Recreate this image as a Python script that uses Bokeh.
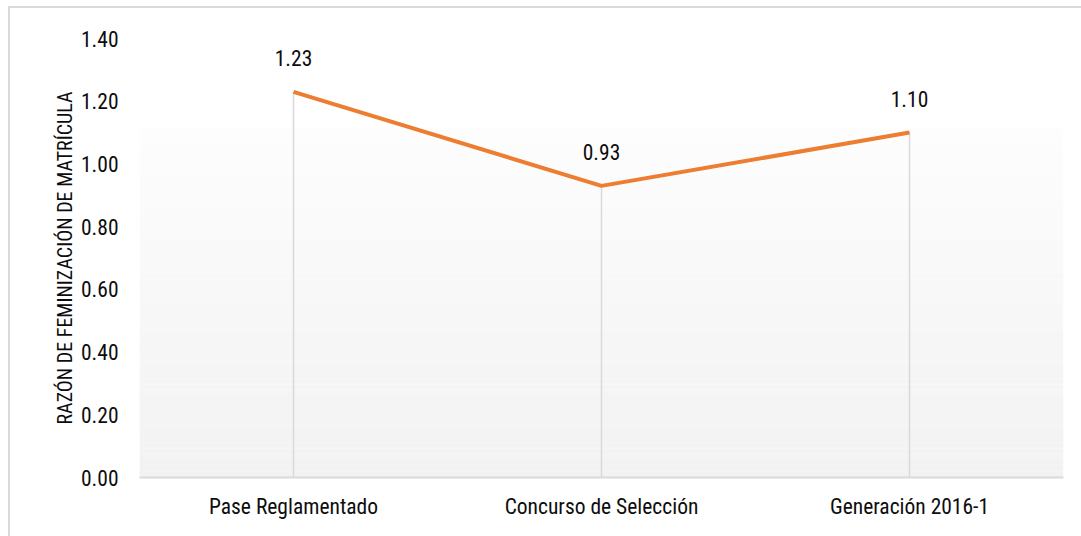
import numpy as np
from bokeh.plotting import figure
from bokeh.models import Range1d, FixedTicker, ColumnDataSource, PrintfTickFormatter
from bokeh.core.properties import value
from bokeh.embed import file_html
from bokeh.resources import INLINE

categories = ["Pase Reglamentado", "Concurso de Selección", "Generación 2016-1"]
ratios = [1.23, 0.93, 1.10]
y_ticks = [0.0, 0.2, 0.4, 0.6, 0.8, 1.0, 1.2, 1.4]
y_title = "RAZÓN DE FEMINIZACIÓN DE MATRÍCULA"

FONT = "Roboto Condensed"
FS = "21.5px"
TXT = "#0d0d0d"

xs = np.arange(len(categories)) + 0.5

p = figure(width=1081, height=536, output_backend="svg", toolbar_location=None,
           x_range=Range1d(0, len(categories)), y_range=Range1d(0, 1.4),
           min_border_left=139, min_border_right=18, min_border_top=38, min_border_bottom=59)
p.outline_line_color = None
p.background_fill_color = "white"
p.border_fill_color = None
p.styles = {
    "background": "linear-gradient(#d9d9d9,#d9d9d9) 8px 6px / 2px 100% no-repeat, "
                  "linear-gradient(#d9d9d9,#d9d9d9) 8px 6px / 100% 2px no-repeat, white"
}
p.xgrid.visible = False
p.ygrid.visible = False

# gradient plot background (horizontal strips)
n = 60
grad_top = 1.113
edges = np.linspace(0, grad_top, n + 1)
cols = []
for i in range(n):
    t = (i + 0.5) / n
    v = int(round(242 + (253 - 242) * t))
    cols.append("#%02x%02x%02x" % (v, v, v))
p.quad(left=0, right=len(categories), bottom=edges[:-1], top=edges[1:],
       fill_color=cols, line_color=None, level="underlay")

# drop lines
p.segment(x0=xs, y0=[0] * len(xs), x1=xs, y1=ratios, line_color="#d9d9d9", line_width=1.5)

# main line
p.line(xs, ratios, line_color="#ed7d31", line_width=4)

# data labels
src = ColumnDataSource(dict(x=xs, y=ratios, t=[f"{v:.2f}" for v in ratios]))
p.text(x="x", y="y", text="t", source=src, text_align="center", text_baseline="middle",
       y_offset=-34, text_font=value(FONT), text_font_size=FS, text_color=TXT)

# x axis
p.xaxis.ticker = FixedTicker(ticks=list(xs))
p.xaxis.major_label_overrides = {float(x): c for x, c in zip(xs, categories)}
p.xaxis.axis_line_color = "#d9d9d9"
p.xaxis.axis_line_width = 2
p.xaxis.major_tick_line_color = None
p.xaxis.minor_tick_line_color = None
p.xaxis.major_label_standoff = 10
p.xaxis.major_label_text_font = FONT
p.xaxis.major_label_text_font_size = FS
p.xaxis.major_label_text_color = TXT

# y axis
p.yaxis.ticker = FixedTicker(ticks=y_ticks)
p.yaxis.formatter = PrintfTickFormatter(format="%.2f")
p.yaxis.axis_line_color = None
p.yaxis.major_tick_line_color = None
p.yaxis.minor_tick_line_color = None
p.yaxis.major_label_standoff = 15
p.yaxis.major_label_text_font = FONT
p.yaxis.major_label_text_font_size = FS
p.yaxis.major_label_text_color = TXT
p.yaxis.axis_label = y_title
p.yaxis.axis_label_text_font = FONT
p.yaxis.axis_label_text_font_size = "20px"
p.yaxis.axis_label_text_font_style = "normal"
p.yaxis.axis_label_text_color = TXT
p.yaxis.axis_label_standoff = 1

open("out.html", "w").write(file_html(p, INLINE))
